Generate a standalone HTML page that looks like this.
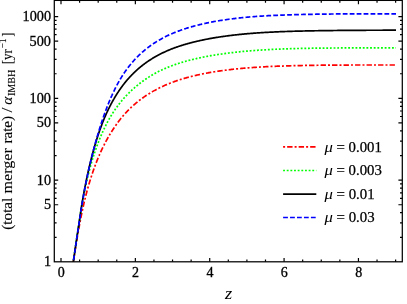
<!DOCTYPE html>
<html><head><meta charset="utf-8"><title>plot</title>
<style>html,body{margin:0;padding:0;background:#fff;overflow:hidden}body{width:407px;height:304px;font-family:"Liberation Serif",serif}</style></head>
<body>
<svg width="407" height="304" viewBox="0 0 407 304" style="display:block;will-change:transform">
<rect width="407" height="304" fill="#fff"/>
<clipPath id="c"><rect x="54.3" y="0.4" width="348.0" height="261.40000000000003"/></clipPath>
<g clip-path="url(#c)" fill="none" stroke-width="1.7">
<path d="M73.06,264.15 L73.12,263.75 L73.18,263.35 L73.24,262.94 L73.29,262.54 L73.35,262.13 L73.41,261.72 L73.47,261.31 L73.53,260.91 L73.59,260.50 L73.65,260.08 L73.71,259.67 L73.77,259.26 L73.83,258.85 L73.89,258.43 L73.95,258.02 L74.02,257.60 L74.08,257.19 L74.14,256.77 L74.20,256.35 L74.27,255.93 L74.33,255.51 L74.39,255.09 L74.46,254.67 L74.52,254.25 L74.58,253.83 L74.65,253.40 L74.71,252.98 L74.78,252.55 L74.85,252.13 L74.91,251.70 L74.98,251.27 L75.04,250.85 L75.11,250.42 L75.18,249.99 L75.25,249.56 L75.31,249.13 L75.38,248.70 L75.45,248.26 L75.52,247.83 L75.59,247.40 L75.66,246.96 L75.73,246.53 L75.80,246.09 L75.87,245.66 L75.94,245.22 L76.01,244.78 L76.08,244.34 L76.15,243.91 L76.23,243.47 L76.30,243.03 L76.37,242.59 L76.45,242.14 L76.52,241.70 L76.59,241.26 L76.67,240.82 L76.74,240.37 L76.82,239.93 L76.89,239.48 L76.97,239.04 L77.04,238.59 L77.12,238.15 L77.20,237.70 L77.28,237.25 L77.35,236.80 L77.43,236.36 L77.51,235.91 L77.59,235.46 L77.67,235.01 L77.75,234.55 L77.83,234.10 L77.91,233.65 L77.99,233.20 L78.07,232.75 L78.15,232.29 L78.23,231.84 L78.31,231.38 L78.40,230.93 L78.48,230.47 L78.56,230.02 L78.65,229.56 L78.73,229.11 L78.81,228.65 L78.90,228.19 L78.98,227.73 L79.07,227.27 L79.16,226.81 L79.24,226.36 L79.33,225.90 L79.42,225.43 L79.51,224.97 L79.59,224.50 L79.68,224.03 L79.77,223.56 L79.86,223.09 L79.95,222.62 L80.04,222.14 L80.13,221.67 L80.22,221.19 L80.31,220.71 L80.41,220.23 L80.50,219.74 L80.59,219.26 L80.69,218.78 L80.78,218.29 L80.87,217.80 L80.97,217.32 L81.06,216.83 L81.16,216.34 L81.26,215.86 L81.35,215.37 L81.45,214.88 L81.55,214.39 L81.64,213.91 L81.74,213.42 L81.84,212.93 L81.94,212.45 L82.04,211.96 L82.14,211.48 L82.24,210.99 L82.34,210.51 L82.44,210.03 L82.55,209.55 L82.65,209.07 L82.75,208.59 L82.86,208.11 L82.96,207.64 L83.07,207.17 L83.17,206.69 L83.28,206.22 L83.38,205.75 L83.49,205.28 L83.60,204.81 L83.70,204.34 L83.81,203.87 L83.92,203.40 L84.03,202.93 L84.14,202.46 L84.25,201.99 L84.36,201.53 L84.47,201.06 L84.58,200.59 L84.70,200.12 L84.81,199.66 L84.92,199.19 L85.04,198.73 L85.15,198.26 L85.27,197.80 L85.38,197.33 L85.50,196.87 L85.62,196.40 L85.73,195.94 L85.85,195.48 L85.97,195.01 L86.09,194.55 L86.21,194.09 L86.33,193.63 L86.45,193.17 L86.57,192.71 L86.69,192.25 L86.81,191.79 L86.94,191.33 L87.06,190.88 L87.19,190.42 L87.31,189.96 L87.44,189.51 L87.56,189.05 L87.69,188.59 L87.82,188.14 L87.94,187.69 L88.07,187.23 L88.20,186.78 L88.33,186.32 L88.46,185.87 L88.59,185.42 L88.72,184.97 L88.86,184.52 L88.99,184.06 L89.12,183.61 L89.26,183.16 L89.39,182.71 L89.53,182.26 L89.66,181.81 L89.80,181.36 L89.94,180.91 L90.07,180.46 L90.21,180.02 L90.35,179.57 L90.49,179.12 L90.63,178.67 L90.77,178.23 L90.91,177.78 L91.06,177.33 L91.20,176.89 L91.34,176.44 L91.49,176.00 L91.63,175.55 L91.78,175.11 L91.93,174.67 L92.07,174.22 L92.22,173.78 L92.37,173.34 L92.52,172.90 L92.67,172.45 L92.82,172.01 L92.97,171.57 L93.13,171.13 L93.28,170.69 L93.43,170.25 L93.59,169.81 L93.74,169.37 L93.90,168.93 L94.06,168.50 L94.21,168.06 L94.37,167.62 L94.53,167.18 L94.69,166.75 L94.85,166.31 L95.01,165.88 L95.18,165.44 L95.34,165.01 L95.50,164.57 L95.67,164.14 L95.83,163.70 L96.00,163.27 L96.16,162.84 L96.33,162.40 L96.50,161.97 L96.67,161.54 L96.84,161.11 L97.01,160.68 L97.18,160.25 L97.35,159.82 L97.53,159.39 L97.70,158.96 L97.88,158.53 L98.05,158.11 L98.23,157.68 L98.41,157.25 L98.59,156.83 L98.76,156.40 L98.94,155.98 L99.13,155.56 L99.31,155.13 L99.49,154.71 L99.67,154.29 L99.86,153.87 L100.04,153.45 L100.23,153.03 L100.42,152.62 L100.60,152.20 L100.79,151.79 L100.98,151.37 L101.17,150.96 L101.36,150.55 L101.56,150.13 L101.75,149.72 L101.94,149.31 L102.14,148.90 L102.34,148.49 L102.53,148.08 L102.73,147.67 L102.93,147.26 L103.13,146.85 L103.33,146.45 L103.53,146.04 L103.73,145.63 L103.94,145.23 L104.14,144.82 L104.35,144.42 L104.56,144.01 L104.76,143.61 L104.97,143.21 L105.18,142.80 L105.39,142.40 L105.60,142.00 L105.82,141.60 L106.03,141.20 L106.24,140.80 L106.46,140.41 L106.68,140.01 L106.89,139.61 L107.11,139.22 L107.33,138.82 L107.55,138.43 L107.78,138.04 L108.00,137.64 L108.22,137.25 L108.45,136.86 L108.67,136.47 L108.90,136.08 L109.13,135.70 L109.36,135.31 L109.59,134.92 L109.82,134.54 L110.05,134.16 L110.29,133.77 L110.52,133.39 L110.76,133.00 L111.00,132.62 L111.23,132.24 L111.47,131.85 L111.71,131.47 L111.96,131.09 L112.20,130.71 L112.44,130.33 L112.69,129.94 L112.93,129.56 L113.18,129.18 L113.43,128.80 L113.68,128.42 L113.93,128.04 L114.18,127.67 L114.44,127.29 L114.69,126.91 L114.95,126.53 L115.21,126.16 L115.46,125.78 L115.72,125.41 L115.98,125.03 L116.25,124.66 L116.51,124.29 L116.77,123.92 L117.04,123.55 L117.31,123.18 L117.58,122.81 L117.85,122.44 L118.12,122.08 L118.39,121.71 L118.66,121.34 L118.94,120.98 L119.21,120.62 L119.49,120.26 L119.77,119.90 L120.05,119.54 L120.33,119.18 L120.61,118.82 L120.90,118.47 L121.18,118.12 L121.47,117.76 L121.76,117.41 L122.05,117.06 L122.34,116.71 L122.63,116.37 L122.93,116.02 L123.22,115.68 L123.52,115.34 L123.82,114.99 L124.12,114.66 L124.42,114.32 L124.72,113.98 L125.02,113.65 L125.33,113.31 L125.63,112.98 L125.94,112.65 L126.25,112.32 L126.56,111.99 L126.88,111.66 L127.19,111.33 L127.50,111.01 L127.82,110.68 L128.14,110.36 L128.46,110.04 L128.78,109.71 L129.11,109.39 L129.43,109.07 L129.76,108.76 L130.08,108.44 L130.41,108.12 L130.74,107.81 L131.08,107.49 L131.41,107.18 L131.75,106.87 L132.08,106.56 L132.42,106.25 L132.76,105.94 L133.10,105.63 L133.45,105.32 L133.79,105.02 L134.14,104.71 L134.49,104.41 L134.84,104.11 L135.19,103.80 L135.55,103.50 L135.90,103.20 L136.26,102.91 L136.62,102.61 L136.98,102.31 L137.34,102.01 L137.70,101.72 L138.07,101.43 L138.44,101.13 L138.80,100.84 L139.18,100.55 L139.55,100.26 L139.92,99.97 L140.30,99.68 L140.68,99.39 L141.06,99.11 L141.44,98.83 L141.82,98.54 L142.21,98.26 L142.59,97.98 L142.98,97.70 L143.37,97.43 L143.77,97.15 L144.16,96.88 L144.56,96.60 L144.96,96.33 L145.36,96.06 L145.76,95.79 L146.16,95.52 L146.57,95.26 L146.98,94.99 L147.39,94.73 L147.80,94.46 L148.21,94.20 L148.63,93.94 L149.04,93.68 L149.46,93.42 L149.89,93.16 L150.31,92.90 L150.74,92.65 L151.16,92.39 L151.59,92.14 L152.03,91.88 L152.46,91.63 L152.89,91.38 L153.33,91.13 L153.77,90.88 L154.22,90.63 L154.66,90.38 L155.11,90.14 L155.55,89.89 L156.01,89.65 L156.46,89.41 L156.91,89.17 L157.37,88.93 L157.83,88.69 L158.29,88.46 L158.76,88.22 L159.22,87.99 L159.69,87.76 L160.16,87.53 L160.63,87.31 L161.11,87.08 L161.58,86.86 L162.06,86.63 L162.55,86.41 L163.03,86.18 L163.52,85.96 L164.00,85.74 L164.50,85.52 L164.99,85.30 L165.48,85.08 L165.98,84.87 L166.48,84.65 L166.99,84.44 L167.49,84.22 L168.00,84.01 L168.51,83.80 L169.02,83.59 L169.54,83.39 L170.05,83.18 L170.57,82.98 L171.10,82.77 L171.62,82.57 L172.15,82.37 L172.68,82.18 L173.21,81.98 L173.75,81.79 L174.28,81.59 L174.82,81.40 L175.37,81.21 L175.91,81.03 L176.46,80.84 L177.01,80.65 L177.56,80.47 L178.12,80.29 L178.68,80.10 L179.24,79.92 L179.80,79.74 L180.37,79.56 L180.94,79.38 L181.51,79.20 L182.08,79.03 L182.66,78.85 L183.24,78.68 L183.82,78.50 L184.41,78.33 L184.99,78.16 L185.59,77.99 L186.18,77.83 L186.78,77.66 L187.38,77.49 L187.98,77.33 L188.58,77.17 L189.19,77.00 L189.80,76.84 L190.42,76.69 L191.03,76.53 L191.65,76.37 L192.28,76.22 L192.90,76.07 L193.53,75.91 L194.16,75.76 L194.80,75.62 L195.44,75.47 L196.08,75.32 L196.72,75.18 L197.37,75.03 L198.02,74.89 L198.67,74.75 L199.33,74.60 L199.99,74.46 L200.65,74.32 L201.31,74.18 L201.98,74.04 L202.65,73.90 L203.33,73.77 L204.01,73.63 L204.69,73.49 L205.38,73.36 L206.06,73.23 L206.75,73.10 L207.45,72.97 L208.15,72.84 L208.85,72.71 L209.55,72.58 L210.26,72.46 L210.97,72.33 L211.69,72.21 L212.41,72.09 L213.13,71.97 L213.85,71.85 L214.58,71.73 L215.31,71.61 L216.05,71.50 L216.79,71.39 L217.53,71.27 L218.28,71.17 L219.03,71.06 L219.78,70.95 L220.54,70.85 L221.30,70.74 L222.06,70.64 L222.83,70.53 L223.60,70.43 L224.38,70.33 L225.16,70.23 L225.94,70.13 L226.72,70.03 L227.51,69.93 L228.31,69.84 L229.11,69.74 L229.91,69.64 L230.71,69.55 L231.52,69.45 L232.33,69.36 L233.15,69.27 L233.97,69.18 L234.80,69.09 L235.62,69.00 L236.46,68.91 L237.29,68.83 L238.13,68.74 L238.98,68.66 L239.83,68.57 L240.68,68.49 L241.53,68.41 L242.39,68.33 L243.26,68.25 L244.13,68.18 L245.00,68.10 L245.88,68.03 L246.76,67.96 L247.65,67.89 L248.53,67.82 L249.43,67.75 L250.33,67.68 L251.23,67.62 L252.14,67.55 L253.05,67.49 L253.96,67.43 L254.88,67.36 L255.81,67.30 L256.74,67.24 L257.67,67.18 L258.61,67.13 L259.55,67.07 L260.49,67.01 L261.45,66.96 L262.40,66.90 L263.36,66.85 L264.33,66.80 L265.29,66.74 L266.27,66.69 L267.25,66.64 L268.23,66.60 L269.22,66.55 L270.21,66.50 L271.21,66.46 L272.21,66.41 L273.22,66.37 L274.23,66.33 L275.24,66.29 L276.27,66.25 L277.29,66.21 L278.32,66.17 L279.36,66.14 L280.40,66.10 L281.45,66.06 L282.50,66.03 L283.55,65.99 L284.61,65.96 L285.68,65.92 L286.75,65.89 L287.83,65.86 L288.91,65.83 L289.99,65.80 L291.09,65.77 L292.18,65.74 L293.28,65.71 L294.39,65.68 L295.50,65.65 L296.62,65.63 L297.74,65.60 L298.87,65.58 L300.01,65.56 L301.15,65.53 L302.29,65.51 L303.44,65.49 L304.60,65.47 L305.76,65.45 L306.92,65.43 L308.10,65.41 L309.27,65.39 L310.46,65.37 L311.65,65.35 L312.84,65.33 L314.04,65.31 L315.25,65.30 L316.46,65.28 L317.68,65.26 L318.90,65.25 L320.13,65.23 L321.37,65.22 L322.61,65.21 L323.85,65.19 L325.11,65.18 L326.37,65.17 L327.63,65.16 L328.90,65.15 L330.18,65.14 L331.46,65.13 L332.75,65.12 L334.05,65.11 L335.35,65.10 L336.66,65.09 L337.97,65.08 L339.29,65.07 L340.62,65.07 L341.95,65.06 L343.29,65.05 L344.64,65.04 L345.99,65.04 L347.35,65.03 L348.71,65.03 L350.08,65.02 L351.46,65.02 L352.84,65.02 L354.24,65.01 L355.63,65.01 L357.04,65.00 L358.45,65.00 L359.87,65.00 L361.29,64.99 L362.72,64.99 L364.16,64.99 L365.61,64.99 L367.06,64.98 L368.52,64.98 L369.98,64.98 L371.46,64.98 L372.94,64.98 L374.42,64.98 L375.92,64.98 L377.42,64.98 L378.93,64.98 L380.44,64.98 L381.96,64.98 L383.49,64.98 L385.03,64.98 L386.58,64.98 L388.13,64.98 L389.69,64.98 L391.25,64.98 L392.83,64.98 L394.41,64.98 L396.00,64.98" stroke="#ff0000" stroke-dasharray="2 2.05 5.4 2.05" stroke-dashoffset="3.4"/>
<path d="M72.96,264.08 L73.02,263.69 L73.08,263.30 L73.14,262.91 L73.20,262.52 L73.25,262.12 L73.31,261.72 L73.37,261.32 L73.43,260.91 L73.49,260.50 L73.55,260.09 L73.61,259.68 L73.67,259.27 L73.73,258.85 L73.79,258.43 L73.85,258.01 L73.91,257.58 L73.97,257.16 L74.04,256.73 L74.10,256.30 L74.16,255.86 L74.22,255.43 L74.29,254.99 L74.35,254.55 L74.42,254.11 L74.48,253.66 L74.54,253.21 L74.61,252.77 L74.67,252.31 L74.74,251.86 L74.80,251.41 L74.87,250.95 L74.94,250.49 L75.00,250.03 L75.07,249.57 L75.14,249.10 L75.20,248.63 L75.27,248.17 L75.34,247.69 L75.41,247.22 L75.48,246.75 L75.55,246.27 L75.62,245.79 L75.69,245.31 L75.76,244.83 L75.83,244.35 L75.90,243.86 L75.97,243.38 L76.04,242.89 L76.11,242.40 L76.19,241.91 L76.26,241.41 L76.33,240.92 L76.40,240.42 L76.48,239.92 L76.55,239.42 L76.63,238.92 L76.70,238.42 L76.78,237.92 L76.85,237.41 L76.93,236.90 L77.00,236.40 L77.08,235.89 L77.16,235.37 L77.23,234.86 L77.31,234.35 L77.39,233.83 L77.47,233.32 L77.55,232.80 L77.62,232.28 L77.70,231.76 L77.78,231.24 L77.86,230.72 L77.94,230.19 L78.03,229.67 L78.11,229.14 L78.19,228.62 L78.27,228.09 L78.35,227.56 L78.44,227.03 L78.52,226.50 L78.60,225.97 L78.69,225.43 L78.77,224.89 L78.86,224.34 L78.94,223.78 L79.03,223.22 L79.11,222.65 L79.20,222.08 L79.29,221.50 L79.38,220.92 L79.46,220.34 L79.55,219.75 L79.64,219.15 L79.73,218.56 L79.82,217.96 L79.91,217.36 L80.00,216.76 L80.09,216.16 L80.18,215.56 L80.27,214.95 L80.36,214.35 L80.46,213.74 L80.55,213.14 L80.64,212.54 L80.74,211.94 L80.83,211.34 L80.93,210.74 L81.02,210.14 L81.12,209.55 L81.21,208.96 L81.31,208.38 L81.41,207.80 L81.50,207.22 L81.60,206.64 L81.70,206.07 L81.80,205.50 L81.90,204.94 L82.00,204.37 L82.10,203.80 L82.20,203.23 L82.30,202.67 L82.40,202.10 L82.51,201.54 L82.61,200.98 L82.71,200.41 L82.82,199.85 L82.92,199.29 L83.02,198.73 L83.13,198.17 L83.24,197.62 L83.34,197.06 L83.45,196.50 L83.56,195.95 L83.66,195.40 L83.77,194.84 L83.88,194.29 L83.99,193.74 L84.10,193.19 L84.21,192.64 L84.32,192.09 L84.43,191.55 L84.54,191.00 L84.66,190.46 L84.77,189.92 L84.88,189.38 L85.00,188.84 L85.11,188.30 L85.23,187.76 L85.34,187.22 L85.46,186.68 L85.58,186.15 L85.69,185.61 L85.81,185.08 L85.93,184.54 L86.05,184.01 L86.17,183.48 L86.29,182.95 L86.41,182.42 L86.53,181.89 L86.65,181.36 L86.78,180.83 L86.90,180.30 L87.02,179.78 L87.15,179.25 L87.27,178.72 L87.40,178.20 L87.52,177.68 L87.65,177.15 L87.78,176.63 L87.91,176.11 L88.04,175.59 L88.16,175.07 L88.29,174.55 L88.42,174.03 L88.56,173.51 L88.69,173.00 L88.82,172.48 L88.95,171.97 L89.09,171.45 L89.22,170.94 L89.35,170.43 L89.49,169.91 L89.63,169.40 L89.76,168.89 L89.90,168.38 L90.04,167.87 L90.18,167.36 L90.32,166.85 L90.46,166.35 L90.60,165.84 L90.74,165.34 L90.88,164.83 L91.02,164.33 L91.17,163.82 L91.31,163.32 L91.46,162.82 L91.60,162.32 L91.75,161.82 L91.90,161.32 L92.04,160.82 L92.19,160.33 L92.34,159.83 L92.49,159.34 L92.64,158.84 L92.79,158.35 L92.94,157.86 L93.10,157.37 L93.25,156.88 L93.40,156.39 L93.56,155.90 L93.71,155.41 L93.87,154.93 L94.03,154.44 L94.19,153.96 L94.34,153.48 L94.50,152.99 L94.66,152.51 L94.82,152.03 L94.99,151.56 L95.15,151.08 L95.31,150.60 L95.48,150.12 L95.64,149.65 L95.81,149.17 L95.97,148.70 L96.14,148.23 L96.31,147.75 L96.48,147.28 L96.65,146.81 L96.82,146.34 L96.99,145.87 L97.16,145.40 L97.33,144.93 L97.51,144.46 L97.68,143.99 L97.85,143.53 L98.03,143.06 L98.21,142.60 L98.39,142.14 L98.56,141.67 L98.74,141.21 L98.92,140.75 L99.11,140.29 L99.29,139.84 L99.47,139.38 L99.65,138.93 L99.84,138.47 L100.02,138.02 L100.21,137.57 L100.40,137.12 L100.59,136.67 L100.78,136.22 L100.97,135.78 L101.16,135.34 L101.35,134.89 L101.54,134.45 L101.74,134.01 L101.93,133.57 L102.13,133.13 L102.32,132.70 L102.52,132.26 L102.72,131.82 L102.92,131.38 L103.12,130.95 L103.32,130.51 L103.52,130.08 L103.72,129.64 L103.93,129.21 L104.13,128.78 L104.34,128.34 L104.55,127.91 L104.75,127.48 L104.96,127.05 L105.17,126.62 L105.39,126.20 L105.60,125.77 L105.81,125.34 L106.02,124.92 L106.24,124.50 L106.46,124.07 L106.67,123.65 L106.89,123.23 L107.11,122.81 L107.33,122.40 L107.55,121.98 L107.77,121.56 L108.00,121.15 L108.22,120.74 L108.45,120.33 L108.68,119.92 L108.90,119.51 L109.13,119.10 L109.36,118.69 L109.59,118.29 L109.83,117.89 L110.06,117.49 L110.29,117.09 L110.53,116.69 L110.77,116.29 L111.00,115.90 L111.24,115.50 L111.48,115.11 L111.72,114.72 L111.97,114.33 L112.21,113.95 L112.45,113.56 L112.70,113.18 L112.95,112.79 L113.19,112.41 L113.44,112.03 L113.69,111.65 L113.95,111.27 L114.20,110.89 L114.45,110.51 L114.71,110.13 L114.97,109.75 L115.22,109.38 L115.48,109.00 L115.74,108.63 L116.00,108.26 L116.27,107.89 L116.53,107.52 L116.80,107.15 L117.06,106.78 L117.33,106.41 L117.60,106.05 L117.87,105.68 L118.14,105.32 L118.42,104.96 L118.69,104.60 L118.97,104.24 L119.24,103.88 L119.52,103.52 L119.80,103.16 L120.08,102.81 L120.36,102.45 L120.65,102.10 L120.93,101.75 L121.22,101.40 L121.51,101.05 L121.80,100.70 L122.09,100.35 L122.38,100.00 L122.67,99.66 L122.97,99.32 L123.26,98.97 L123.56,98.63 L123.86,98.29 L124.16,97.96 L124.46,97.62 L124.76,97.28 L125.07,96.95 L125.38,96.62 L125.68,96.28 L125.99,95.95 L126.30,95.62 L126.61,95.30 L126.93,94.97 L127.24,94.65 L127.56,94.32 L127.88,94.00 L128.20,93.68 L128.52,93.36 L128.84,93.03 L129.17,92.72 L129.49,92.40 L129.82,92.08 L130.15,91.76 L130.48,91.45 L130.81,91.13 L131.14,90.82 L131.48,90.50 L131.82,90.19 L132.15,89.88 L132.49,89.57 L132.84,89.26 L133.18,88.95 L133.52,88.64 L133.87,88.33 L134.22,88.03 L134.57,87.72 L134.92,87.42 L135.27,87.11 L135.63,86.81 L135.98,86.51 L136.34,86.21 L136.70,85.91 L137.06,85.61 L137.43,85.31 L137.79,85.02 L138.16,84.72 L138.53,84.43 L138.90,84.13 L139.27,83.84 L139.65,83.55 L140.02,83.26 L140.40,82.97 L140.78,82.68 L141.16,82.39 L141.54,82.10 L141.93,81.81 L142.31,81.53 L142.70,81.25 L143.09,80.96 L143.49,80.68 L143.88,80.40 L144.28,80.12 L144.67,79.84 L145.07,79.56 L145.47,79.29 L145.88,79.01 L146.28,78.73 L146.69,78.46 L147.10,78.19 L147.51,77.92 L147.93,77.64 L148.34,77.38 L148.76,77.11 L149.18,76.84 L149.60,76.57 L150.02,76.31 L150.45,76.04 L150.88,75.78 L151.31,75.52 L151.74,75.26 L152.17,75.00 L152.61,74.75 L153.04,74.49 L153.48,74.24 L153.93,73.99 L154.37,73.74 L154.82,73.49 L155.26,73.25 L155.71,73.01 L156.17,72.76 L156.62,72.52 L157.08,72.28 L157.54,72.05 L158.00,71.81 L158.46,71.58 L158.93,71.34 L159.40,71.11 L159.87,70.88 L160.34,70.66 L160.81,70.43 L161.29,70.20 L161.77,69.98 L162.25,69.75 L162.73,69.53 L163.22,69.31 L163.71,69.09 L164.20,68.87 L164.69,68.65 L165.19,68.43 L165.69,68.21 L166.19,68.00 L166.69,67.79 L167.19,67.57 L167.70,67.36 L168.21,67.15 L168.72,66.94 L169.24,66.74 L169.76,66.53 L170.28,66.33 L170.80,66.12 L171.32,65.92 L171.85,65.72 L172.38,65.53 L172.91,65.33 L173.45,65.14 L173.98,64.94 L174.52,64.75 L175.07,64.57 L175.61,64.38 L176.16,64.19 L176.71,64.01 L177.26,63.83 L177.82,63.64 L178.38,63.46 L178.94,63.28 L179.50,63.10 L180.07,62.92 L180.64,62.75 L181.21,62.57 L181.78,62.40 L182.36,62.22 L182.94,62.05 L183.52,61.88 L184.11,61.71 L184.69,61.54 L185.29,61.37 L185.88,61.21 L186.48,61.04 L187.08,60.88 L187.68,60.72 L188.28,60.55 L188.89,60.39 L189.50,60.23 L190.12,60.08 L190.73,59.92 L191.35,59.76 L191.98,59.61 L192.60,59.46 L193.23,59.31 L193.86,59.16 L194.50,59.01 L195.14,58.86 L195.78,58.72 L196.42,58.57 L197.07,58.42 L197.72,58.28 L198.37,58.14 L199.03,57.99 L199.69,57.85 L200.35,57.71 L201.02,57.57 L201.69,57.43 L202.36,57.29 L203.03,57.16 L203.71,57.02 L204.39,56.88 L205.08,56.75 L205.77,56.61 L206.46,56.48 L207.15,56.35 L207.85,56.22 L208.55,56.09 L209.26,55.96 L209.97,55.83 L210.68,55.71 L211.40,55.58 L212.11,55.46 L212.84,55.34 L213.56,55.22 L214.29,55.10 L215.02,54.98 L215.76,54.86 L216.50,54.74 L217.24,54.63 L217.99,54.52 L218.74,54.41 L219.49,54.29 L220.25,54.19 L221.01,54.08 L221.78,53.97 L222.54,53.86 L223.32,53.76 L224.09,53.65 L224.87,53.55 L225.65,53.44 L226.44,53.34 L227.23,53.23 L228.02,53.13 L228.82,53.03 L229.62,52.93 L230.43,52.83 L231.24,52.73 L232.05,52.63 L232.87,52.54 L233.69,52.44 L234.52,52.35 L235.35,52.25 L236.18,52.16 L237.02,52.07 L237.86,51.98 L238.70,51.89 L239.55,51.80 L240.41,51.71 L241.26,51.62 L242.12,51.54 L242.99,51.46 L243.86,51.37 L244.73,51.29 L245.61,51.21 L246.49,51.13 L247.38,51.06 L248.27,50.98 L249.16,50.91 L250.06,50.84 L250.97,50.76 L251.88,50.69 L252.79,50.62 L253.70,50.55 L254.62,50.49 L255.55,50.42 L256.48,50.35 L257.41,50.29 L258.35,50.22 L259.30,50.16 L260.24,50.09 L261.19,50.03 L262.15,49.97 L263.11,49.91 L264.08,49.85 L265.05,49.79 L266.02,49.74 L267.00,49.68 L267.99,49.63 L268.98,49.57 L269.97,49.52 L270.97,49.47 L271.97,49.42 L272.98,49.38 L273.99,49.33 L275.01,49.28 L276.03,49.24 L277.06,49.20 L278.09,49.15 L279.13,49.11 L280.17,49.07 L281.22,49.03 L282.27,48.99 L283.33,48.95 L284.39,48.91 L285.46,48.87 L286.53,48.83 L287.61,48.80 L288.69,48.76 L289.78,48.73 L290.87,48.69 L291.97,48.66 L293.08,48.63 L294.19,48.60 L295.30,48.57 L296.42,48.54 L297.54,48.51 L298.67,48.49 L299.81,48.46 L300.95,48.44 L302.10,48.41 L303.25,48.39 L304.41,48.37 L305.57,48.35 L306.74,48.32 L307.91,48.30 L309.09,48.28 L310.28,48.26 L311.47,48.24 L312.67,48.22 L313.87,48.21 L315.08,48.19 L316.29,48.17 L317.51,48.16 L318.74,48.14 L319.97,48.13 L321.21,48.11 L322.45,48.10 L323.70,48.09 L324.95,48.07 L326.22,48.06 L327.48,48.05 L328.76,48.04 L330.04,48.03 L331.32,48.02 L332.61,48.01 L333.91,48.00 L335.22,47.99 L336.53,47.99 L337.84,47.98 L339.17,47.97 L340.49,47.96 L341.83,47.95 L343.17,47.95 L344.52,47.94 L345.88,47.94 L347.24,47.93 L348.60,47.93 L349.98,47.92 L351.36,47.92 L352.75,47.91 L354.14,47.91 L355.54,47.91 L356.95,47.90 L358.36,47.90 L359.78,47.89 L361.21,47.89 L362.65,47.89 L364.09,47.89 L365.54,47.88 L366.99,47.88 L368.45,47.88 L369.92,47.88 L371.40,47.88 L372.88,47.87 L374.37,47.87 L375.87,47.87 L377.37,47.87 L378.89,47.87 L380.41,47.87 L381.93,47.87 L383.46,47.87 L385.01,47.87 L386.55,47.87 L388.11,47.87 L389.67,47.87 L391.24,47.87 L392.82,47.87 L394.41,47.87 L396.00,47.87" stroke="#00ff00" stroke-dasharray="1.85 1.8"/>
<path d="M72.96,263.93 L73.02,263.57 L73.08,263.21 L73.14,262.84 L73.20,262.47 L73.25,262.10 L73.31,261.72 L73.37,261.34 L73.43,260.96 L73.49,260.57 L73.55,260.18 L73.61,259.79 L73.67,259.40 L73.73,259.00 L73.79,258.60 L73.85,258.19 L73.91,257.78 L73.97,257.37 L74.04,256.96 L74.10,256.54 L74.16,256.12 L74.22,255.70 L74.29,255.27 L74.35,254.85 L74.42,254.41 L74.48,253.98 L74.54,253.54 L74.61,253.11 L74.67,252.66 L74.74,252.22 L74.80,251.77 L74.87,251.32 L74.94,250.87 L75.00,250.42 L75.07,249.96 L75.14,249.50 L75.20,249.04 L75.27,248.57 L75.34,248.11 L75.41,247.64 L75.48,247.16 L75.55,246.69 L75.62,246.21 L75.69,245.74 L75.76,245.26 L75.83,244.77 L75.90,244.29 L75.97,243.80 L76.04,243.31 L76.11,242.82 L76.19,242.33 L76.26,241.83 L76.33,241.34 L76.40,240.84 L76.48,240.34 L76.55,239.83 L76.63,239.33 L76.70,238.82 L76.78,238.31 L76.85,237.80 L76.93,237.29 L77.00,236.78 L77.08,236.26 L77.16,235.75 L77.23,235.23 L77.31,234.71 L77.39,234.18 L77.47,233.66 L77.55,233.14 L77.62,232.61 L77.70,232.08 L77.78,231.55 L77.86,231.02 L77.94,230.49 L78.03,229.96 L78.11,229.42 L78.19,228.89 L78.27,228.35 L78.35,227.81 L78.44,227.27 L78.52,226.73 L78.60,226.19 L78.69,225.64 L78.77,225.09 L78.86,224.53 L78.94,223.95 L79.03,223.38 L79.11,222.79 L79.20,222.20 L79.29,221.60 L79.38,221.00 L79.46,220.39 L79.55,219.78 L79.64,219.16 L79.73,218.54 L79.82,217.92 L79.91,217.30 L80.00,216.67 L80.09,216.04 L80.18,215.41 L80.27,214.78 L80.36,214.15 L80.46,213.52 L80.55,212.89 L80.64,212.26 L80.74,211.63 L80.83,211.00 L80.93,210.38 L81.02,209.76 L81.12,209.14 L81.21,208.52 L81.31,207.91 L81.41,207.31 L81.50,206.71 L81.60,206.10 L81.70,205.50 L81.80,204.90 L81.90,204.30 L82.00,203.69 L82.10,203.09 L82.20,202.49 L82.30,201.89 L82.40,201.29 L82.51,200.69 L82.61,200.09 L82.71,199.49 L82.82,198.90 L82.92,198.30 L83.02,197.70 L83.13,197.10 L83.24,196.50 L83.34,195.91 L83.45,195.31 L83.56,194.72 L83.66,194.12 L83.77,193.52 L83.88,192.93 L83.99,192.34 L84.10,191.74 L84.21,191.15 L84.32,190.56 L84.43,189.96 L84.54,189.37 L84.66,188.78 L84.77,188.19 L84.88,187.60 L85.00,187.01 L85.11,186.42 L85.23,185.83 L85.34,185.24 L85.46,184.65 L85.58,184.06 L85.69,183.47 L85.81,182.88 L85.93,182.30 L86.05,181.71 L86.17,181.12 L86.29,180.53 L86.41,179.95 L86.53,179.36 L86.65,178.78 L86.78,178.19 L86.90,177.60 L87.02,177.02 L87.15,176.44 L87.27,175.85 L87.40,175.27 L87.52,174.69 L87.65,174.10 L87.78,173.52 L87.91,172.94 L88.04,172.36 L88.16,171.78 L88.29,171.20 L88.42,170.62 L88.56,170.04 L88.69,169.46 L88.82,168.88 L88.95,168.30 L89.09,167.72 L89.22,167.15 L89.35,166.57 L89.49,165.99 L89.63,165.42 L89.76,164.84 L89.90,164.27 L90.04,163.69 L90.18,163.12 L90.32,162.55 L90.46,161.97 L90.60,161.40 L90.74,160.83 L90.88,160.26 L91.02,159.69 L91.17,159.12 L91.31,158.55 L91.46,157.98 L91.60,157.41 L91.75,156.84 L91.90,156.27 L92.04,155.71 L92.19,155.14 L92.34,154.57 L92.49,154.01 L92.64,153.45 L92.79,152.88 L92.94,152.32 L93.10,151.76 L93.25,151.20 L93.40,150.64 L93.56,150.08 L93.71,149.52 L93.87,148.96 L94.03,148.41 L94.19,147.85 L94.34,147.29 L94.50,146.74 L94.66,146.18 L94.82,145.63 L94.99,145.07 L95.15,144.52 L95.31,143.97 L95.48,143.41 L95.64,142.86 L95.81,142.31 L95.97,141.76 L96.14,141.21 L96.31,140.67 L96.48,140.12 L96.65,139.58 L96.82,139.04 L96.99,138.50 L97.16,137.96 L97.33,137.42 L97.51,136.88 L97.68,136.35 L97.85,135.82 L98.03,135.29 L98.21,134.76 L98.39,134.23 L98.56,133.70 L98.74,133.17 L98.92,132.65 L99.11,132.12 L99.29,131.59 L99.47,131.07 L99.65,130.54 L99.84,130.02 L100.02,129.50 L100.21,128.97 L100.40,128.45 L100.59,127.93 L100.78,127.41 L100.97,126.89 L101.16,126.38 L101.35,125.86 L101.54,125.35 L101.74,124.83 L101.93,124.32 L102.13,123.81 L102.32,123.30 L102.52,122.79 L102.72,122.28 L102.92,121.77 L103.12,121.27 L103.32,120.77 L103.52,120.27 L103.72,119.77 L103.93,119.27 L104.13,118.77 L104.34,118.28 L104.55,117.78 L104.75,117.29 L104.96,116.80 L105.17,116.32 L105.39,115.83 L105.60,115.35 L105.81,114.87 L106.02,114.39 L106.24,113.91 L106.46,113.43 L106.67,112.96 L106.89,112.48 L107.11,112.01 L107.33,111.54 L107.55,111.07 L107.77,110.60 L108.00,110.13 L108.22,109.66 L108.45,109.20 L108.68,108.73 L108.90,108.27 L109.13,107.81 L109.36,107.35 L109.59,106.89 L109.83,106.43 L110.06,105.98 L110.29,105.52 L110.53,105.07 L110.77,104.61 L111.00,104.16 L111.24,103.71 L111.48,103.26 L111.72,102.82 L111.97,102.37 L112.21,101.93 L112.45,101.48 L112.70,101.04 L112.95,100.60 L113.19,100.16 L113.44,99.72 L113.69,99.28 L113.95,98.85 L114.20,98.41 L114.45,97.98 L114.71,97.55 L114.97,97.12 L115.22,96.69 L115.48,96.26 L115.74,95.84 L116.00,95.41 L116.27,94.99 L116.53,94.57 L116.80,94.15 L117.06,93.73 L117.33,93.31 L117.60,92.89 L117.87,92.47 L118.14,92.06 L118.42,91.65 L118.69,91.23 L118.97,90.82 L119.24,90.41 L119.52,90.00 L119.80,89.59 L120.08,89.19 L120.36,88.78 L120.65,88.38 L120.93,87.98 L121.22,87.58 L121.51,87.18 L121.80,86.78 L122.09,86.38 L122.38,85.99 L122.67,85.60 L122.97,85.20 L123.26,84.81 L123.56,84.43 L123.86,84.04 L124.16,83.66 L124.46,83.27 L124.76,82.89 L125.07,82.51 L125.38,82.13 L125.68,81.76 L125.99,81.38 L126.30,81.01 L126.61,80.64 L126.93,80.27 L127.24,79.91 L127.56,79.54 L127.88,79.18 L128.20,78.82 L128.52,78.46 L128.84,78.10 L129.17,77.74 L129.49,77.38 L129.82,77.03 L130.15,76.67 L130.48,76.32 L130.81,75.97 L131.14,75.62 L131.48,75.27 L131.82,74.92 L132.15,74.57 L132.49,74.23 L132.84,73.89 L133.18,73.54 L133.52,73.20 L133.87,72.86 L134.22,72.53 L134.57,72.19 L134.92,71.86 L135.27,71.52 L135.63,71.19 L135.98,70.86 L136.34,70.53 L136.70,70.20 L137.06,69.88 L137.43,69.55 L137.79,69.23 L138.16,68.90 L138.53,68.58 L138.90,68.26 L139.27,67.95 L139.65,67.63 L140.02,67.31 L140.40,67.00 L140.78,66.69 L141.16,66.38 L141.54,66.07 L141.93,65.76 L142.31,65.46 L142.70,65.15 L143.09,64.85 L143.49,64.55 L143.88,64.25 L144.28,63.96 L144.67,63.66 L145.07,63.37 L145.47,63.07 L145.88,62.78 L146.28,62.49 L146.69,62.21 L147.10,61.92 L147.51,61.63 L147.93,61.35 L148.34,61.07 L148.76,60.79 L149.18,60.51 L149.60,60.23 L150.02,59.96 L150.45,59.68 L150.88,59.41 L151.31,59.14 L151.74,58.87 L152.17,58.60 L152.61,58.33 L153.04,58.06 L153.48,57.79 L153.93,57.53 L154.37,57.27 L154.82,57.01 L155.26,56.75 L155.71,56.49 L156.17,56.23 L156.62,55.98 L157.08,55.73 L157.54,55.48 L158.00,55.23 L158.46,54.98 L158.93,54.74 L159.40,54.50 L159.87,54.26 L160.34,54.02 L160.81,53.78 L161.29,53.54 L161.77,53.31 L162.25,53.07 L162.73,52.84 L163.22,52.61 L163.71,52.38 L164.20,52.15 L164.69,51.92 L165.19,51.69 L165.69,51.46 L166.19,51.24 L166.69,51.02 L167.19,50.79 L167.70,50.57 L168.21,50.35 L168.72,50.14 L169.24,49.92 L169.76,49.71 L170.28,49.49 L170.80,49.28 L171.32,49.07 L171.85,48.87 L172.38,48.66 L172.91,48.46 L173.45,48.26 L173.98,48.06 L174.52,47.86 L175.07,47.66 L175.61,47.47 L176.16,47.27 L176.71,47.08 L177.26,46.89 L177.82,46.70 L178.38,46.51 L178.94,46.32 L179.50,46.13 L180.07,45.95 L180.64,45.76 L181.21,45.58 L181.78,45.40 L182.36,45.22 L182.94,45.04 L183.52,44.86 L184.11,44.68 L184.69,44.50 L185.29,44.33 L185.88,44.16 L186.48,43.98 L187.08,43.81 L187.68,43.64 L188.28,43.48 L188.89,43.31 L189.50,43.14 L190.12,42.98 L190.73,42.82 L191.35,42.65 L191.98,42.49 L192.60,42.34 L193.23,42.18 L193.86,42.02 L194.50,41.87 L195.14,41.72 L195.78,41.56 L196.42,41.41 L197.07,41.26 L197.72,41.11 L198.37,40.96 L199.03,40.81 L199.69,40.67 L200.35,40.52 L201.02,40.38 L201.69,40.23 L202.36,40.09 L203.03,39.94 L203.71,39.80 L204.39,39.66 L205.08,39.52 L205.77,39.38 L206.46,39.25 L207.15,39.11 L207.85,38.97 L208.55,38.84 L209.26,38.71 L209.97,38.58 L210.68,38.45 L211.40,38.32 L212.11,38.19 L212.84,38.06 L213.56,37.94 L214.29,37.82 L215.02,37.69 L215.76,37.57 L216.50,37.45 L217.24,37.34 L217.99,37.22 L218.74,37.11 L219.49,36.99 L220.25,36.88 L221.01,36.77 L221.78,36.66 L222.54,36.55 L223.32,36.44 L224.09,36.34 L224.87,36.23 L225.65,36.12 L226.44,36.02 L227.23,35.91 L228.02,35.81 L228.82,35.71 L229.62,35.61 L230.43,35.50 L231.24,35.40 L232.05,35.31 L232.87,35.21 L233.69,35.11 L234.52,35.01 L235.35,34.92 L236.18,34.83 L237.02,34.73 L237.86,34.64 L238.70,34.55 L239.55,34.46 L240.41,34.37 L241.26,34.29 L242.12,34.20 L242.99,34.12 L243.86,34.03 L244.73,33.95 L245.61,33.87 L246.49,33.79 L247.38,33.72 L248.27,33.64 L249.16,33.57 L250.06,33.49 L250.97,33.42 L251.88,33.35 L252.79,33.28 L253.70,33.21 L254.62,33.14 L255.55,33.08 L256.48,33.01 L257.41,32.95 L258.35,32.88 L259.30,32.82 L260.24,32.75 L261.19,32.69 L262.15,32.63 L263.11,32.57 L264.08,32.51 L265.05,32.46 L266.02,32.40 L267.00,32.35 L267.99,32.29 L268.98,32.24 L269.97,32.19 L270.97,32.14 L271.97,32.09 L272.98,32.04 L273.99,31.99 L275.01,31.94 L276.03,31.90 L277.06,31.85 L278.09,31.81 L279.13,31.77 L280.17,31.72 L281.22,31.68 L282.27,31.64 L283.33,31.60 L284.39,31.56 L285.46,31.52 L286.53,31.48 L287.61,31.45 L288.69,31.41 L289.78,31.37 L290.87,31.34 L291.97,31.31 L293.08,31.27 L294.19,31.24 L295.30,31.21 L296.42,31.18 L297.54,31.15 L298.67,31.12 L299.81,31.09 L300.95,31.06 L302.10,31.03 L303.25,31.01 L304.41,30.98 L305.57,30.96 L306.74,30.93 L307.91,30.91 L309.09,30.88 L310.28,30.86 L311.47,30.84 L312.67,30.81 L313.87,30.79 L315.08,30.77 L316.29,30.75 L317.51,30.73 L318.74,30.71 L319.97,30.69 L321.21,30.67 L322.45,30.65 L323.70,30.64 L324.95,30.62 L326.22,30.60 L327.48,30.59 L328.76,30.57 L330.04,30.56 L331.32,30.54 L332.61,30.53 L333.91,30.51 L335.22,30.50 L336.53,30.48 L337.84,30.47 L339.17,30.46 L340.49,30.44 L341.83,30.43 L343.17,30.42 L344.52,30.41 L345.88,30.40 L347.24,30.39 L348.60,30.38 L349.98,30.37 L351.36,30.36 L352.75,30.35 L354.14,30.34 L355.54,30.33 L356.95,30.32 L358.36,30.31 L359.78,30.31 L361.21,30.30 L362.65,30.29 L364.09,30.28 L365.54,30.28 L366.99,30.27 L368.45,30.26 L369.92,30.26 L371.40,30.25 L372.88,30.25 L374.37,30.24 L375.87,30.24 L377.37,30.24 L378.89,30.23 L380.41,30.23 L381.93,30.23 L383.46,30.22 L385.01,30.22 L386.55,30.22 L388.11,30.21 L389.67,30.21 L391.24,30.21 L392.82,30.21 L394.41,30.21 L396.00,30.21" stroke="#000000"/>
<path d="M72.96,264.00 L73.02,263.63 L73.08,263.25 L73.14,262.87 L73.20,262.49 L73.25,262.11 L73.31,261.72 L73.37,261.33 L73.43,260.94 L73.49,260.54 L73.55,260.14 L73.61,259.74 L73.67,259.34 L73.73,258.93 L73.79,258.52 L73.85,258.11 L73.91,257.70 L73.97,257.28 L74.04,256.86 L74.10,256.44 L74.16,256.01 L74.22,255.58 L74.29,255.15 L74.35,254.72 L74.42,254.29 L74.48,253.85 L74.54,253.41 L74.61,252.97 L74.67,252.52 L74.74,252.07 L74.80,251.62 L74.87,251.17 L74.94,250.72 L75.00,250.26 L75.07,249.81 L75.14,249.34 L75.20,248.88 L75.27,248.42 L75.34,247.95 L75.41,247.48 L75.48,247.01 L75.55,246.54 L75.62,246.06 L75.69,245.59 L75.76,245.11 L75.83,244.63 L75.90,244.14 L75.97,243.66 L76.04,243.17 L76.11,242.68 L76.19,242.19 L76.26,241.70 L76.33,241.21 L76.40,240.71 L76.48,240.22 L76.55,239.72 L76.63,239.22 L76.70,238.72 L76.78,238.21 L76.85,237.71 L76.93,237.20 L77.00,236.69 L77.08,236.18 L77.16,235.67 L77.23,235.16 L77.31,234.64 L77.39,234.13 L77.47,233.61 L77.55,233.09 L77.62,232.57 L77.70,232.05 L77.78,231.53 L77.86,231.00 L77.94,230.48 L78.03,229.95 L78.11,229.43 L78.19,228.90 L78.27,228.37 L78.35,227.84 L78.44,227.31 L78.52,226.77 L78.60,226.24 L78.69,225.70 L78.77,225.16 L78.86,224.60 L78.94,224.04 L79.03,223.48 L79.11,222.91 L79.20,222.33 L79.29,221.75 L79.38,221.17 L79.46,220.58 L79.55,219.98 L79.64,219.39 L79.73,218.79 L79.82,218.19 L79.91,217.58 L80.00,216.97 L80.09,216.36 L80.18,215.75 L80.27,215.14 L80.36,214.53 L80.46,213.92 L80.55,213.31 L80.64,212.69 L80.74,212.08 L80.83,211.48 L80.93,210.87 L81.02,210.26 L81.12,209.66 L81.21,209.06 L81.31,208.46 L81.41,207.87 L81.50,207.27 L81.60,206.68 L81.70,206.09 L81.80,205.50 L81.90,204.90 L82.00,204.31 L82.10,203.72 L82.20,203.12 L82.30,202.53 L82.40,201.94 L82.51,201.35 L82.61,200.75 L82.71,200.16 L82.82,199.57 L82.92,198.98 L83.02,198.38 L83.13,197.79 L83.24,197.20 L83.34,196.61 L83.45,196.01 L83.56,195.42 L83.66,194.83 L83.77,194.24 L83.88,193.64 L83.99,193.05 L84.10,192.46 L84.21,191.87 L84.32,191.27 L84.43,190.68 L84.54,190.09 L84.66,189.49 L84.77,188.90 L84.88,188.31 L85.00,187.72 L85.11,187.12 L85.23,186.53 L85.34,185.94 L85.46,185.35 L85.58,184.75 L85.69,184.16 L85.81,183.57 L85.93,182.98 L86.05,182.38 L86.17,181.79 L86.29,181.20 L86.41,180.61 L86.53,180.01 L86.65,179.42 L86.78,178.83 L86.90,178.23 L87.02,177.64 L87.15,177.05 L87.27,176.46 L87.40,175.86 L87.52,175.27 L87.65,174.68 L87.78,174.09 L87.91,173.49 L88.04,172.90 L88.16,172.31 L88.29,171.72 L88.42,171.12 L88.56,170.53 L88.69,169.94 L88.82,169.35 L88.95,168.75 L89.09,168.16 L89.22,167.57 L89.35,166.98 L89.49,166.38 L89.63,165.79 L89.76,165.20 L89.90,164.60 L90.04,164.01 L90.18,163.42 L90.32,162.83 L90.46,162.23 L90.60,161.64 L90.74,161.05 L90.88,160.46 L91.02,159.86 L91.17,159.27 L91.31,158.68 L91.46,158.09 L91.60,157.49 L91.75,156.90 L91.90,156.31 L92.04,155.72 L92.19,155.12 L92.34,154.53 L92.49,153.94 L92.64,153.35 L92.79,152.75 L92.94,152.16 L93.10,151.57 L93.25,150.97 L93.40,150.38 L93.56,149.79 L93.71,149.20 L93.87,148.60 L94.03,148.01 L94.19,147.42 L94.34,146.83 L94.50,146.23 L94.66,145.64 L94.82,145.05 L94.99,144.45 L95.15,143.86 L95.31,143.27 L95.48,142.67 L95.64,142.08 L95.81,141.49 L95.97,140.89 L96.14,140.30 L96.31,139.71 L96.48,139.11 L96.65,138.52 L96.82,137.93 L96.99,137.34 L97.16,136.75 L97.33,136.15 L97.51,135.56 L97.68,134.97 L97.85,134.38 L98.03,133.79 L98.21,133.20 L98.39,132.61 L98.56,132.02 L98.74,131.42 L98.92,130.83 L99.11,130.24 L99.29,129.65 L99.47,129.05 L99.65,128.46 L99.84,127.87 L100.02,127.27 L100.21,126.68 L100.40,126.09 L100.59,125.50 L100.78,124.90 L100.97,124.31 L101.16,123.72 L101.35,123.13 L101.54,122.54 L101.74,121.95 L101.93,121.36 L102.13,120.77 L102.32,120.19 L102.52,119.60 L102.72,119.01 L102.92,118.43 L103.12,117.85 L103.32,117.26 L103.52,116.68 L103.72,116.10 L103.93,115.52 L104.13,114.94 L104.34,114.36 L104.55,113.79 L104.75,113.21 L104.96,112.64 L105.17,112.07 L105.39,111.49 L105.60,110.92 L105.81,110.34 L106.02,109.77 L106.24,109.20 L106.46,108.63 L106.67,108.06 L106.89,107.48 L107.11,106.91 L107.33,106.35 L107.55,105.78 L107.77,105.21 L108.00,104.64 L108.22,104.08 L108.45,103.52 L108.68,102.95 L108.90,102.39 L109.13,101.83 L109.36,101.28 L109.59,100.72 L109.83,100.17 L110.06,99.62 L110.29,99.07 L110.53,98.52 L110.77,97.97 L111.00,97.43 L111.24,96.89 L111.48,96.35 L111.72,95.81 L111.97,95.28 L112.21,94.74 L112.45,94.21 L112.70,93.68 L112.95,93.15 L113.19,92.62 L113.44,92.10 L113.69,91.57 L113.95,91.05 L114.20,90.53 L114.45,90.00 L114.71,89.49 L114.97,88.97 L115.22,88.45 L115.48,87.94 L115.74,87.43 L116.00,86.92 L116.27,86.41 L116.53,85.90 L116.80,85.40 L117.06,84.89 L117.33,84.39 L117.60,83.89 L117.87,83.40 L118.14,82.90 L118.42,82.41 L118.69,81.92 L118.97,81.43 L119.24,80.94 L119.52,80.45 L119.80,79.97 L120.08,79.49 L120.36,79.01 L120.65,78.54 L120.93,78.07 L121.22,77.59 L121.51,77.13 L121.80,76.66 L122.09,76.20 L122.38,75.73 L122.67,75.28 L122.97,74.82 L123.26,74.36 L123.56,73.91 L123.86,73.46 L124.16,73.02 L124.46,72.57 L124.76,72.13 L125.07,71.69 L125.38,71.25 L125.68,70.81 L125.99,70.38 L126.30,69.95 L126.61,69.52 L126.93,69.09 L127.24,68.66 L127.56,68.24 L127.88,67.81 L128.20,67.39 L128.52,66.97 L128.84,66.55 L129.17,66.14 L129.49,65.73 L129.82,65.32 L130.15,64.91 L130.48,64.50 L130.81,64.10 L131.14,63.69 L131.48,63.29 L131.82,62.90 L132.15,62.50 L132.49,62.11 L132.84,61.72 L133.18,61.33 L133.52,60.94 L133.87,60.55 L134.22,60.17 L134.57,59.78 L134.92,59.40 L135.27,59.02 L135.63,58.65 L135.98,58.27 L136.34,57.90 L136.70,57.53 L137.06,57.16 L137.43,56.79 L137.79,56.42 L138.16,56.06 L138.53,55.70 L138.90,55.34 L139.27,54.98 L139.65,54.63 L140.02,54.28 L140.40,53.93 L140.78,53.58 L141.16,53.23 L141.54,52.88 L141.93,52.54 L142.31,52.20 L142.70,51.86 L143.09,51.52 L143.49,51.18 L143.88,50.84 L144.28,50.51 L144.67,50.17 L145.07,49.84 L145.47,49.51 L145.88,49.19 L146.28,48.86 L146.69,48.54 L147.10,48.22 L147.51,47.90 L147.93,47.58 L148.34,47.26 L148.76,46.95 L149.18,46.64 L149.60,46.33 L150.02,46.02 L150.45,45.71 L150.88,45.41 L151.31,45.10 L151.74,44.80 L152.17,44.50 L152.61,44.20 L153.04,43.90 L153.48,43.61 L153.93,43.31 L154.37,43.02 L154.82,42.73 L155.26,42.44 L155.71,42.16 L156.17,41.87 L156.62,41.59 L157.08,41.31 L157.54,41.03 L158.00,40.76 L158.46,40.48 L158.93,40.21 L159.40,39.94 L159.87,39.68 L160.34,39.41 L160.81,39.15 L161.29,38.89 L161.77,38.63 L162.25,38.37 L162.73,38.11 L163.22,37.85 L163.71,37.60 L164.20,37.34 L164.69,37.09 L165.19,36.84 L165.69,36.59 L166.19,36.34 L166.69,36.09 L167.19,35.85 L167.70,35.60 L168.21,35.36 L168.72,35.12 L169.24,34.88 L169.76,34.64 L170.28,34.41 L170.80,34.18 L171.32,33.94 L171.85,33.71 L172.38,33.49 L172.91,33.26 L173.45,33.04 L173.98,32.82 L174.52,32.60 L175.07,32.38 L175.61,32.17 L176.16,31.95 L176.71,31.74 L177.26,31.53 L177.82,31.31 L178.38,31.10 L178.94,30.90 L179.50,30.69 L180.07,30.48 L180.64,30.28 L181.21,30.07 L181.78,29.87 L182.36,29.67 L182.94,29.47 L183.52,29.27 L184.11,29.08 L184.69,28.88 L185.29,28.69 L185.88,28.50 L186.48,28.31 L187.08,28.12 L187.68,27.93 L188.28,27.74 L188.89,27.56 L189.50,27.37 L190.12,27.19 L190.73,27.01 L191.35,26.84 L191.98,26.66 L192.60,26.48 L193.23,26.31 L193.86,26.14 L194.50,25.97 L195.14,25.80 L195.78,25.64 L196.42,25.47 L197.07,25.30 L197.72,25.14 L198.37,24.98 L199.03,24.81 L199.69,24.65 L200.35,24.49 L201.02,24.33 L201.69,24.17 L202.36,24.01 L203.03,23.86 L203.71,23.70 L204.39,23.55 L205.08,23.40 L205.77,23.24 L206.46,23.09 L207.15,22.94 L207.85,22.80 L208.55,22.65 L209.26,22.51 L209.97,22.36 L210.68,22.22 L211.40,22.08 L212.11,21.94 L212.84,21.80 L213.56,21.67 L214.29,21.53 L215.02,21.40 L215.76,21.27 L216.50,21.14 L217.24,21.02 L217.99,20.89 L218.74,20.77 L219.49,20.65 L220.25,20.53 L221.01,20.41 L221.78,20.29 L222.54,20.18 L223.32,20.06 L224.09,19.94 L224.87,19.83 L225.65,19.72 L226.44,19.60 L227.23,19.49 L228.02,19.38 L228.82,19.27 L229.62,19.16 L230.43,19.06 L231.24,18.95 L232.05,18.85 L232.87,18.74 L233.69,18.64 L234.52,18.54 L235.35,18.44 L236.18,18.34 L237.02,18.24 L237.86,18.14 L238.70,18.05 L239.55,17.96 L240.41,17.86 L241.26,17.77 L242.12,17.68 L242.99,17.59 L243.86,17.51 L244.73,17.42 L245.61,17.34 L246.49,17.26 L247.38,17.18 L248.27,17.10 L249.16,17.02 L250.06,16.95 L250.97,16.87 L251.88,16.80 L252.79,16.73 L253.70,16.66 L254.62,16.59 L255.55,16.52 L256.48,16.45 L257.41,16.39 L258.35,16.32 L259.30,16.26 L260.24,16.19 L261.19,16.13 L262.15,16.07 L263.11,16.01 L264.08,15.95 L265.05,15.89 L266.02,15.83 L267.00,15.78 L267.99,15.72 L268.98,15.67 L269.97,15.62 L270.97,15.57 L271.97,15.52 L272.98,15.47 L273.99,15.42 L275.01,15.38 L276.03,15.33 L277.06,15.29 L278.09,15.24 L279.13,15.20 L280.17,15.16 L281.22,15.12 L282.27,15.08 L283.33,15.04 L284.39,15.00 L285.46,14.96 L286.53,14.92 L287.61,14.89 L288.69,14.85 L289.78,14.82 L290.87,14.78 L291.97,14.75 L293.08,14.72 L294.19,14.69 L295.30,14.66 L296.42,14.63 L297.54,14.60 L298.67,14.57 L299.81,14.54 L300.95,14.51 L302.10,14.49 L303.25,14.46 L304.41,14.44 L305.57,14.41 L306.74,14.39 L307.91,14.36 L309.09,14.34 L310.28,14.32 L311.47,14.30 L312.67,14.28 L313.87,14.25 L315.08,14.23 L316.29,14.21 L317.51,14.19 L318.74,14.18 L319.97,14.16 L321.21,14.14 L322.45,14.12 L323.70,14.11 L324.95,14.09 L326.22,14.08 L327.48,14.06 L328.76,14.05 L330.04,14.03 L331.32,14.02 L332.61,14.00 L333.91,13.99 L335.22,13.98 L336.53,13.97 L337.84,13.95 L339.17,13.94 L340.49,13.93 L341.83,13.92 L343.17,13.91 L344.52,13.90 L345.88,13.89 L347.24,13.88 L348.60,13.87 L349.98,13.86 L351.36,13.86 L352.75,13.85 L354.14,13.84 L355.54,13.84 L356.95,13.83 L358.36,13.82 L359.78,13.82 L361.21,13.81 L362.65,13.80 L364.09,13.80 L365.54,13.79 L366.99,13.79 L368.45,13.78 L369.92,13.78 L371.40,13.78 L372.88,13.78 L374.37,13.78 L375.87,13.78 L377.37,13.78 L378.89,13.78 L380.41,13.78 L381.93,13.78 L383.46,13.78 L385.01,13.78 L386.55,13.78 L388.11,13.78 L389.67,13.78 L391.24,13.78 L392.82,13.78 L394.41,13.78 L396.00,13.78" stroke="#0000ff" stroke-dasharray="4.8 2.15" stroke-dashoffset="2.95"/>
</g>
<rect x="54.3" y="0.4" width="348.0" height="261.4" fill="none" stroke="#000" stroke-width="1.25"/>
<path d="M61.00,261.8 v-3.9 M61.00,0.4 v3.9 M79.59,261.8 v-2.3 M79.59,0.4 v2.3 M98.18,261.8 v-2.3 M98.18,0.4 v2.3 M116.77,261.8 v-2.3 M116.77,0.4 v2.3 M135.36,261.8 v-3.9 M135.36,0.4 v3.9 M153.95,261.8 v-2.3 M153.95,0.4 v2.3 M172.54,261.8 v-2.3 M172.54,0.4 v2.3 M191.13,261.8 v-2.3 M191.13,0.4 v2.3 M209.72,261.8 v-3.9 M209.72,0.4 v3.9 M228.31,261.8 v-2.3 M228.31,0.4 v2.3 M246.90,261.8 v-2.3 M246.90,0.4 v2.3 M265.49,261.8 v-2.3 M265.49,0.4 v2.3 M284.08,261.8 v-3.9 M284.08,0.4 v3.9 M302.67,261.8 v-2.3 M302.67,0.4 v2.3 M321.26,261.8 v-2.3 M321.26,0.4 v2.3 M339.85,261.8 v-2.3 M339.85,0.4 v2.3 M358.44,261.8 v-3.9 M358.44,0.4 v3.9 M377.03,261.8 v-2.3 M377.03,0.4 v2.3 M395.62,261.8 v-2.3 M395.62,0.4 v2.3 M54.3,237.33 h2.3 M402.3,237.33 h-2.3 M54.3,222.92 h2.3 M402.3,222.92 h-2.3 M54.3,212.70 h2.3 M402.3,212.70 h-2.3 M54.3,204.77 h3.9 M402.3,204.77 h-3.9 M54.3,198.30 h2.3 M402.3,198.30 h-2.3 M54.3,192.82 h2.3 M402.3,192.82 h-2.3 M54.3,188.08 h2.3 M402.3,188.08 h-2.3 M54.3,183.89 h2.3 M402.3,183.89 h-2.3 M54.3,180.15 h3.9 M402.3,180.15 h-3.9 M54.3,155.53 h2.3 M402.3,155.53 h-2.3 M54.3,141.12 h2.3 M402.3,141.12 h-2.3 M54.3,130.90 h2.3 M402.3,130.90 h-2.3 M54.3,122.97 h3.9 M402.3,122.97 h-3.9 M54.3,116.50 h2.3 M402.3,116.50 h-2.3 M54.3,111.02 h2.3 M402.3,111.02 h-2.3 M54.3,106.28 h2.3 M402.3,106.28 h-2.3 M54.3,102.09 h2.3 M402.3,102.09 h-2.3 M54.3,98.35 h3.9 M402.3,98.35 h-3.9 M54.3,73.73 h2.3 M402.3,73.73 h-2.3 M54.3,59.32 h2.3 M402.3,59.32 h-2.3 M54.3,49.10 h2.3 M402.3,49.10 h-2.3 M54.3,41.17 h3.9 M402.3,41.17 h-3.9 M54.3,34.70 h2.3 M402.3,34.70 h-2.3 M54.3,29.22 h2.3 M402.3,29.22 h-2.3 M54.3,24.48 h2.3 M402.3,24.48 h-2.3 M54.3,20.29 h2.3 M402.3,20.29 h-2.3 M54.3,16.55 h3.9 M402.3,16.55 h-3.9" stroke="#000" stroke-width="1.2" fill="none"/>
<g font-family="Liberation Serif, serif" font-size="14.0px" fill="#000" stroke="#000" stroke-width="0.3">
<text x="51.0" y="266.30" text-anchor="end" textLength="7.1" lengthAdjust="spacingAndGlyphs">1</text>
<text x="51.0" y="209.12" text-anchor="end" textLength="7.1" lengthAdjust="spacingAndGlyphs">5</text>
<text x="51.0" y="184.50" text-anchor="end" textLength="14.2" lengthAdjust="spacingAndGlyphs">10</text>
<text x="51.0" y="127.32" text-anchor="end" textLength="14.2" lengthAdjust="spacingAndGlyphs">50</text>
<text x="51.0" y="102.70" text-anchor="end" textLength="21.4" lengthAdjust="spacingAndGlyphs">100</text>
<text x="51.0" y="45.52" text-anchor="end" textLength="21.4" lengthAdjust="spacingAndGlyphs">500</text>
<text x="51.0" y="20.90" text-anchor="end" textLength="28.5" lengthAdjust="spacingAndGlyphs">1000</text>
<text x="61.20" y="277.1" text-anchor="middle">0</text>
<text x="135.56" y="277.1" text-anchor="middle">2</text>
<text x="209.92" y="277.1" text-anchor="middle">4</text>
<text x="284.28" y="277.1" text-anchor="middle">6</text>
<text x="358.64" y="277.1" text-anchor="middle">8</text>
</g>
<text x="228.6" y="298.6" font-family="Liberation Serif, serif" font-style="italic" font-size="16.5px" text-anchor="middle" textLength="7.2" lengthAdjust="spacingAndGlyphs">z</text>
<g transform="translate(11.8,229.7) rotate(-90)" font-family="Liberation Serif, serif" fill="#000" stroke="#000" stroke-width="0.12">
<text x="0.0" y="0" font-size="14.0px" textLength="32.0" lengthAdjust="spacingAndGlyphs">(total</text>
<text x="36.3" y="0" font-size="14.0px" textLength="45.2" lengthAdjust="spacingAndGlyphs">merger</text>
<text x="86.2" y="0" font-size="14.0px" textLength="27.6" lengthAdjust="spacingAndGlyphs">rate)</text>
<text x="117.1" y="0" font-size="14.0px" textLength="4.8" lengthAdjust="spacingAndGlyphs">/</text>
<text x="125.0" y="0" font-size="14.0px" font-style="italic" textLength="8.0" lengthAdjust="spacingAndGlyphs">α</text>
<text x="133.7" y="3.1" font-size="10.3px" textLength="26.3" lengthAdjust="spacingAndGlyphs">IMBH</text>
<text x="165.4" y="0" font-size="14.0px" textLength="15.2" lengthAdjust="spacingAndGlyphs">[yr</text>
<text x="181.6" y="-5.6" font-size="10.3px" textLength="9.6" lengthAdjust="spacingAndGlyphs">−1</text>
<text x="193.2" y="0" font-size="14.0px" textLength="3.9" lengthAdjust="spacingAndGlyphs">]</text>
</g>
<path d="M283.1,146.8 H316.3" stroke="#ff0000" stroke-width="1.7" fill="none" stroke-dasharray="2 2.05 5.4 2.05"/>
<g font-family="Liberation Serif, serif" font-size="14.0px" stroke="#000" stroke-width="0.25"><text x="324.6" y="151.7" font-style="italic" stroke-width="0" textLength="8.4" lengthAdjust="spacingAndGlyphs">μ</text><text x="336.6" y="151.7" textLength="45.3" lengthAdjust="spacingAndGlyphs">= 0.001</text></g>
<path d="M283.1,170.5 H316.3" stroke="#00ff00" stroke-width="1.7" fill="none" stroke-dasharray="1.85 1.8"/>
<g font-family="Liberation Serif, serif" font-size="14.0px" stroke="#000" stroke-width="0.25"><text x="324.6" y="175.4" font-style="italic" stroke-width="0" textLength="8.4" lengthAdjust="spacingAndGlyphs">μ</text><text x="336.6" y="175.4" textLength="45.3" lengthAdjust="spacingAndGlyphs">= 0.003</text></g>
<path d="M283.1,194.2 H316.3" stroke="#000000" stroke-width="1.7" fill="none"/>
<g font-family="Liberation Serif, serif" font-size="14.0px" stroke="#000" stroke-width="0.25"><text x="324.6" y="199.1" font-style="italic" stroke-width="0" textLength="8.4" lengthAdjust="spacingAndGlyphs">μ</text><text x="336.6" y="199.1" textLength="38.0" lengthAdjust="spacingAndGlyphs">= 0.01</text></g>
<path d="M283.1,217.5 H316.3" stroke="#0000ff" stroke-width="1.7" fill="none" stroke-dasharray="4.8 2.15"/>
<g font-family="Liberation Serif, serif" font-size="14.0px" stroke="#000" stroke-width="0.25"><text x="324.6" y="222.4" font-style="italic" stroke-width="0" textLength="8.4" lengthAdjust="spacingAndGlyphs">μ</text><text x="336.6" y="222.4" textLength="38.0" lengthAdjust="spacingAndGlyphs">= 0.03</text></g>
</svg>
</body></html>
